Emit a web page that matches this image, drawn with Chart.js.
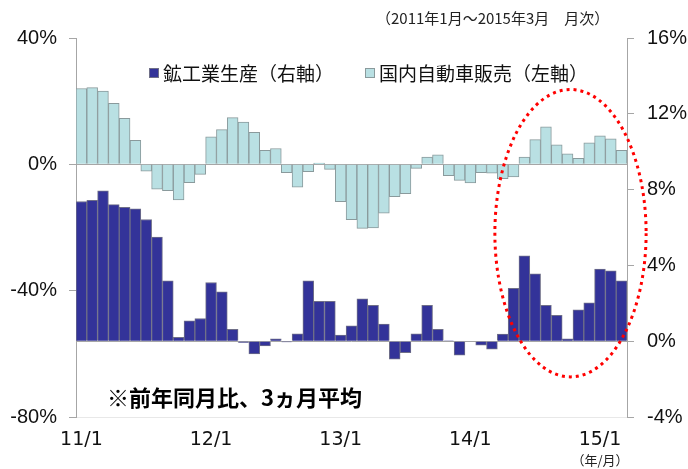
<!DOCTYPE html>
<html>
<head>
<meta charset="utf-8">
<script src="https://cdn.jsdelivr.net/npm/chart.js@4.4.0/dist/chart.umd.min.js"></script>
<style>
  html, body { margin: 0; padding: 0; background: #fff; }
</style>
</head>
<body>
<canvas id="salesChart" width="688" height="469"></canvas>
<script>
// months 2011/1 .. 2015/3
const years = ['11', '12', '13', '14', '15'];
const months = [];
years.forEach((y) => {
  for (let m = 1; m <= 12; m++) {
    if (y === '15' && m > 3) break;
    months.push(y + '/' + m);
  }
});

// 国内自動車販売 (left axis, %)
const autoSales = [
  24.0, 24.3, 23.2, 19.3, 14.6, 7.6, -2.2, -7.9, -8.3, -11.3, -5.8, -3.2,
  8.7, 11.0, 14.8, 13.4, 10.1, 4.4, 5.0, -2.6, -7.2, -2.3, 0.4, -1.6,
  -11.8, -17.5, -20.3, -20.1, -15.5, -10.2, -9.3, -1.3, 2.3, 3.0, -3.6, -5.1,
  -5.9, -2.6, -2.8, -4.5, -4.0, 2.3, 7.8, 11.9, 6.2, 3.3, 1.9, 6.8, 9.0, 8.1, 4.4
];

// 鉱工業生産 (right axis, %)
const industrialProduction = [
  7.37, 7.44, 7.94, 7.21, 7.07, 6.98, 6.42, 5.5, 3.19, 0.2, 1.07, 1.2,
  3.1, 2.6, 0.62, -0.07, -0.67, -0.25, 0.12, -0.04, 0.39, 3.19, 2.1, 2.1,
  0.32, 0.81, 2.24, 1.89, 0.9, -0.95, -0.6, 0.39, 1.89, 0.62, 0.02, -0.74,
  0.0, -0.21, -0.42, 0.37, 2.79, 4.51, 3.56, 1.89, 1.36, 0.12, 1.66, 2.03, 3.81, 3.72, 3.19
];

const seriesLabels = ['鉱工業生産（右軸）', '国内自動車販売（左軸）'];
const periodNote = '（2011年1月～2015年3月　月次）';
const basisNote = '※前年同月比、3ヵ月平均';
const unitNote = '（年/月）';

const jpFont = '"Noto Sans CJK JP", sans-serif';

const overlayPlugin = {
  id: 'overlay',
  afterDraw(chart) {
    const ctx = chart.ctx;
    const x = chart.scales.x;
    const yl = chart.scales.yLeft;
    ctx.save();

    // period text
    ctx.fillStyle = '#222';
    ctx.font = '15px ' + jpFont;
    ctx.textBaseline = 'middle';
    ctx.textAlign = 'left';
    ctx.fillText(periodNote, 376, 18);

    // legend
    const legendPos = [149, 365];
    ctx.font = '19px ' + jpFont;
    chart.data.datasets.forEach((ds, i) => {
      const lx = legendPos[i];
      ctx.fillStyle = ds.backgroundColor;
      ctx.fillRect(lx, 68, 9, 9);
      ctx.strokeStyle = ds.borderColor;
      ctx.lineWidth = 1;
      ctx.strokeRect(lx + 0.5, 68.5, 9, 9);
      ctx.fillStyle = '#111';
      ctx.fillText(ds.label, lx + 14, 74);
    });

    // note
    ctx.font = 'bold 22px ' + jpFont;
    ctx.fillStyle = '#000';
    ctx.fillText(basisNote, 107, 398);

    // unit under the axis
    ctx.font = '13px ' + jpFont;
    ctx.fillStyle = '#222';
    ctx.textAlign = 'center';
    ctx.fillText(unitNote, x.getPixelForValue(48), 460);

    // red dotted ellipse
    const cx = x.getPixelForValue(45.27);
    const top = yl.getPixelForValue(23.7);
    const bottom = yl.getPixelForValue(-67.3);
    const rx = x.getPixelForValue(7) - x.getPixelForValue(0);
    ctx.beginPath();
    ctx.ellipse(cx, (top + bottom) / 2, rx, (bottom - top) / 2, 0, 0, Math.PI * 2);
    ctx.strokeStyle = '#ff0000';
    ctx.lineWidth = 3;
    ctx.setLineDash([3, 4]);
    ctx.stroke();

    ctx.restore();
  },
};

const zeroOnly = (c) => (c.tick && c.tick.value === 0 ? '#a6a6a6' : 'rgba(0,0,0,0)');

const salesChart = new Chart(document.getElementById('salesChart'), {
  type: 'bar',
  data: {
    labels: months,
    datasets: [
      {
        label: seriesLabels[0],
        data: industrialProduction,
        yAxisID: 'yRight',
        backgroundColor: '#333399',
        borderColor: '#6f6f88',
        borderWidth: 1,
        grouped: false,
        barPercentage: 1,
        categoryPercentage: 1,
      },
      {
        label: seriesLabels[1],
        data: autoSales,
        yAxisID: 'yLeft',
        backgroundColor: '#b9e0e3',
        borderColor: '#8a9a9c',
        borderWidth: 1,
        grouped: false,
        barPercentage: 1,
        categoryPercentage: 1,
      },
    ],
  },
  options: {
    responsive: false,
    animation: false,
    layout: { padding: { top: 38 } },
    plugins: {
      legend: { display: false },
      tooltip: { enabled: false },
    },
    scales: {
      x: {
        grid: { display: false, drawTicks: false },
        border: { color: '#e8e8e8' },
        ticks: {
          autoSkip: false,
          maxRotation: 0,
          padding: 12,
          color: '#111',
          font: { family: '"DejaVu Sans"', size: 19 },
          callback: function (v) {
            const l = this.getLabelForValue(v);
            return l.split('/')[1] === '1' ? l : '';
          },
        },
        afterFit: (s) => { s.height = 52; },
      },
      yLeft: {
        position: 'left',
        min: -80,
        max: 40,
        grid: { color: zeroOnly, tickColor: '#a6a6a6', tickLength: 7 },
        border: { color: '#a6a6a6' },
        ticks: {
          stepSize: 40,
          padding: 12,
          color: '#111',
          font: { family: '"Liberation Sans"', size: 20 },
          callback: (v) => v + '%',
        },
        afterFit: (s) => { s.width = 76; },
      },
      yRight: {
        position: 'right',
        min: -4,
        max: 16,
        grid: { color: zeroOnly, tickColor: '#a6a6a6', tickLength: 7 },
        border: { color: '#a6a6a6' },
        ticks: {
          stepSize: 4,
          padding: 13,
          color: '#111',
          font: { family: '"Liberation Sans"', size: 20 },
          callback: (v) => v + '%',
        },
        afterFit: (s) => { s.width = 61; },
      },
    },
  },
  plugins: [overlayPlugin],
});
</script>
</body>
</html>
